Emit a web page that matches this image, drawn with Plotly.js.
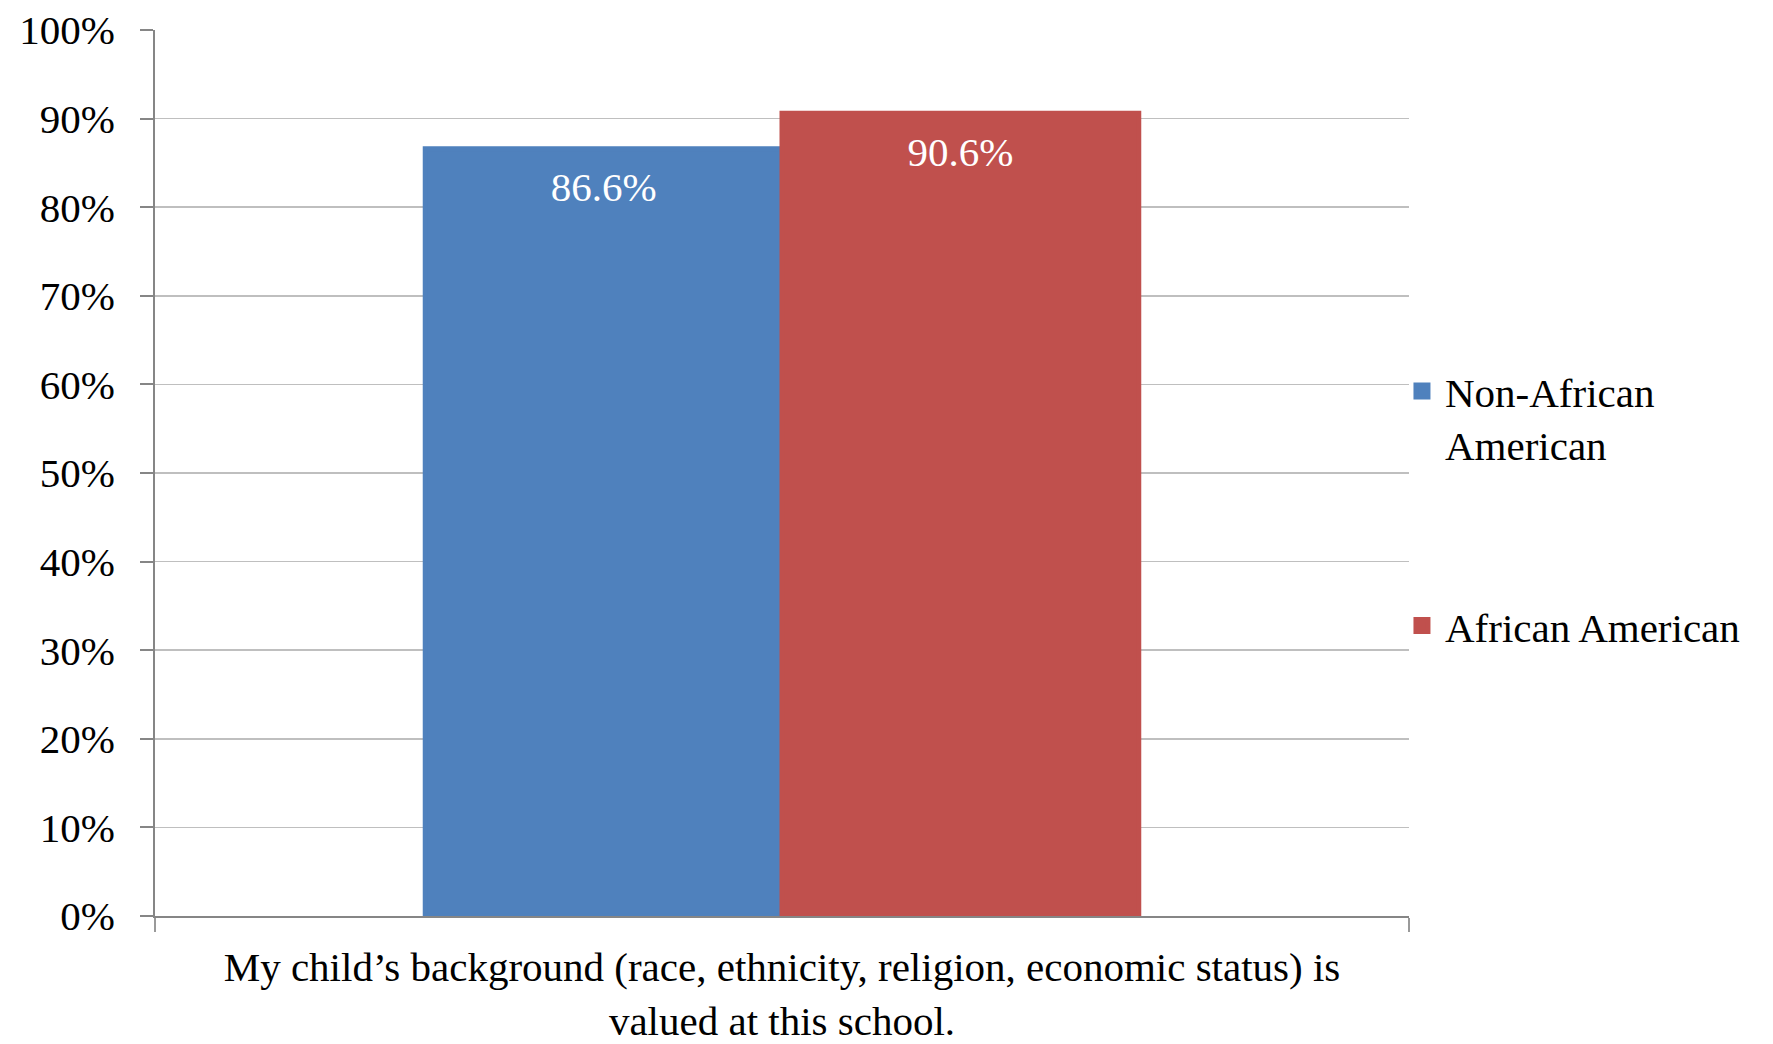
<!DOCTYPE html>
<html>
<head>
<meta charset="utf-8">
<script src="https://cdn.plot.ly/plotly-3.0.1.min.js"></script>
<style>html,body{margin:0;padding:0;background:#fff;}#chart{width:1773px;height:1044px;}</style>
</head>
<body>
<div id="chart"></div>
<script>
const categories = ["My child’s background (race, ethnicity, religion, economic status) is<br>valued at this school."];
const seriesNames = ["Non-African<br>American", "African American"];
const nonAfricanAmerican = [0.866];
const africanAmerican = [0.906];
const colors = ["#4F81BD", "#C0504D"];
const FONT = "'Liberation Serif', 'Times New Roman', serif";
const GAP = 0.431;

const series = [nonAfricanAmerican, africanAmerican];

const barTraces = series.map((vals, i) => ({
  type: 'bar',
  name: seriesNames[i],
  legendgroup: 'g' + i,
  x: categories,
  y: vals,
  marker: {color: colors[i], line: {color: colors[i], width: 5}},
  hoverinfo: 'none'
}));

const labelTraces = series.map((vals, i) => ({
  type: 'scatter',
  mode: 'markers+text',
  showlegend: false,
  legendgroup: 'g' + i,
  x: categories,
  y: vals,
  marker: {size: 33, opacity: 0, color: colors[i]},
  texttemplate: '%{y:.1%}',
  textposition: 'bottom center',
  textfont: {family: FONT, size: 41, color: '#ffffff'},
  hoverinfo: 'none',
  cliponaxis: false
}));

const layout = {
  width: 1773, height: 1044,
  margin: {l: 155, r: 364, t: 30, b: 128},
  paper_bgcolor: '#ffffff', plot_bgcolor: '#ffffff',
  font: {family: FONT, size: 41, color: '#000000'},
  barmode: 'group',
  bargap: GAP,
  bargroupgap: 0,
  scattermode: 'group',
  scattergap: GAP,
  showlegend: true,
  legend: {
    x: 0.992, xanchor: 'left', y: 0.63, yanchor: 'top',
    font: {family: FONT, size: 41, color: '#000000'},
    traceorder: 'grouped', tracegroupgap: 125, valign: 'top',
    itemwidth: 36,
    bgcolor: 'rgba(0,0,0,0)', borderwidth: 0
  },
  xaxis: {
    type: 'category',
    showline: true, linecolor: '#868686', linewidth: 2,
    ticks: 'outside', tickson: 'boundaries', ticklen: 14, tickcolor: '#9a9a9a', tickwidth: 2,
    showgrid: false, zeroline: false,
    ticklabelstandoff: 14,
    tickfont: {family: FONT, size: 41, color: '#000000'}
  },
  yaxis: {
    range: [0, 1], dtick: 0.1, tickformat: '.0%',
    showline: true, linecolor: '#868686', linewidth: 2,
    ticks: 'outside', ticklen: 13, tickcolor: '#868686', tickwidth: 2,
    showgrid: true, gridcolor: '#bfbfbf', gridwidth: 1.5,
    zeroline: false,
    ticklabelstandoff: 17,
    tickfont: {family: FONT, size: 41, color: '#000000'}
  }
};

Plotly.newPlot('chart', barTraces.concat(labelTraces), layout, {displayModeBar: false, staticPlot: true});
</script>
</body>
</html>
